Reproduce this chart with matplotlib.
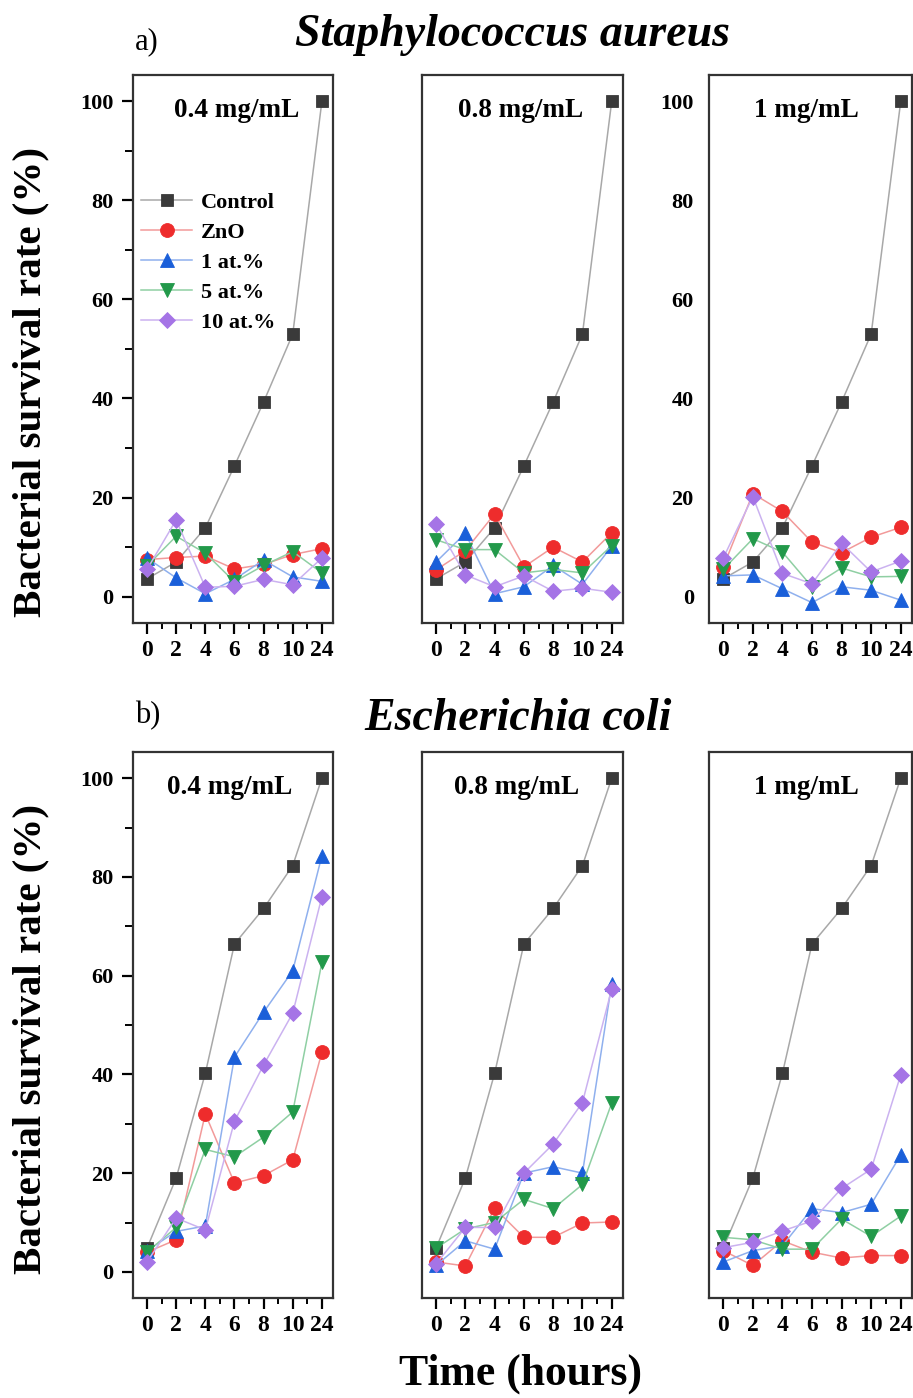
import matplotlib
matplotlib.use('Agg')
import matplotlib.pyplot as plt
from matplotlib.ticker import MultipleLocator

plt.rcParams['font.family'] = ['Liberation Serif', 'DejaVu Serif']
plt.rcParams['font.weight'] = 'bold'

times = ['0', '2', '4', '6', '8', '10', '24']
series = ['Control', 'ZnO', '1 at.%', '5 at.%', '10 at.%']
concs = ['0.4 mg/mL', '0.8 mg/mL', '1 mg/mL']

# S. aureus, one list per concentration: control, ZnO, 1, 5, 10 at.%
sa_04 = [
    [3.6, 7.0, 13.9, 26.4, 39.3, 53.0, 100],
    [7.5, 7.9, 8.2, 5.6, 6.5, 8.5, 9.7],
    [7.8, 3.8, 0.6, 3.5, 7.4, 4.0, 3.1],
    [6.2, 12.2, 8.8, 3.0, 6.3, 9.1, 4.8],
    [5.5, 15.5, 1.9, 2.1, 3.5, 2.4, 7.8],
]
sa_08 = [
    [3.6, 7.0, 13.9, 26.4, 39.3, 53.0, 100],
    [5.4, 9.3, 16.7, 6.0, 10.0, 7.0, 12.9],
    [7.0, 12.8, 0.6, 2.0, 6.3, 2.5, 10.2],
    [11.5, 9.5, 9.5, 4.8, 5.5, 4.8, 10.3],
    [14.7, 4.4, 2.0, 4.2, 1.1, 1.7, 0.9],
]
sa_1 = [
    [3.6, 7.0, 13.9, 26.4, 39.3, 53.0, 100],
    [6.0, 20.8, 17.2, 11.0, 8.9, 12.0, 14.0],
    [4.2, 4.4, 1.6, -1.2, 2.0, 1.3, -0.7],
    [5.5, 11.7, 9.0, 2.0, 5.8, 4.0, 4.1],
    [7.8, 20.2, 4.7, 2.6, 10.8, 5.0, 7.2],
]

# E. coli
ec_04 = [
    [4.8, 19.0, 40.2, 66.4, 73.6, 82.3, 100],
    [4.0, 6.5, 32.0, 18.0, 19.5, 22.7, 44.5],
    [4.3, 8.2, 9.3, 43.5, 52.6, 61.0, 84.3],
    [4.0, 9.0, 24.8, 23.3, 27.3, 32.4, 62.7],
    [2.0, 10.9, 8.5, 30.5, 41.9, 52.4, 76.0],
]
ec_08 = [
    [4.8, 19.0, 40.2, 66.4, 73.6, 82.3, 100],
    [2.0, 1.2, 12.9, 7.0, 7.0, 9.9, 10.1],
    [1.3, 6.3, 4.6, 20.0, 21.3, 20.0, 58.4],
    [4.8, 8.7, 10.0, 14.7, 12.8, 17.7, 34.2],
    [1.6, 9.0, 9.0, 20.0, 25.9, 34.3, 57.3],
]
ec_1 = [
    [4.8, 19.0, 40.2, 66.4, 73.6, 82.3, 100],
    [4.3, 1.3, 6.3, 4.0, 2.8, 3.3, 3.3],
    [2.0, 4.3, 5.3, 12.8, 12.0, 13.7, 23.7],
    [7.0, 6.5, 4.6, 4.6, 10.7, 7.2, 11.3],
    [4.9, 6.0, 8.3, 10.3, 16.9, 20.8, 39.9],
]

markers = ['s', 'o', '^', 'v', 'D']
mcolors = ['#3a3a3a', '#ee2c2c', '#1a5fd9', '#22994a', '#a574e6']
lcolors = ['#a8a8a8', '#f29a9a', '#8fb0ee', '#8fcfa3', '#cbb2f0']
msizes = [8.5, 10, 10, 10, 8.5]

fig = plt.figure(figsize=(9.13, 13.98), dpi=100)

lefts = [0.1457, 0.4622, 0.7766]
widths = [0.219, 0.220, 0.2223]
rows = [(0.5544, 0.392, [sa_04, sa_08, sa_1]), (0.0715, 0.3906, [ec_04, ec_08, ec_1])]
lab_x = [[0.52, 0.49, 0.48], [0.485, 0.47, 0.48]]

x = list(range(len(times)))
for r, (bot, h, datasets) in enumerate(rows):
    for c, data in enumerate(datasets):
        ax = fig.add_axes([lefts[c], bot, widths[c], h])
        for i, ys in enumerate(data):
            ax.plot(x, ys, color=lcolors[i], lw=1.1, marker=markers[i], ms=msizes[i],
                    mfc=mcolors[i], mec=mcolors[i], mew=0.6, label=series[i])
        ax.set_xlim(-0.48, 6.38)
        ax.set_ylim(-5.3, 105.3)
        ax.set_xticks(x)
        ax.set_xticklabels(times)
        ax.xaxis.set_minor_locator(MultipleLocator(0.5))
        ax.yaxis.set_major_locator(MultipleLocator(20))
        ax.yaxis.set_minor_locator(MultipleLocator(10))
        for s in ax.spines.values():
            s.set_linewidth(1.6)
            s.set_color('#333333')
        ax.tick_params(axis='x', which='major', direction='out', length=8, width=1.6, labelsize=17, pad=4)
        ax.tick_params(axis='x', which='minor', direction='out', length=4.5, width=1.4)
        if c == 0:
            ax.tick_params(axis='y', which='major', direction='out', length=8, width=1.6, labelsize=16, pad=6)
            ax.tick_params(axis='y', which='minor', direction='out', length=6, width=1.4)
        elif c == 2 and r == 0:
            ax.tick_params(axis='y', which='both', length=0, labelsize=16, pad=11)
        else:
            ax.tick_params(axis='y', which='both', length=0, labelleft=False)
        ax.text(lab_x[r][c], 0.935, concs[c], transform=ax.transAxes, ha='center', va='center',
                fontsize=19.5, fontweight='bold')
        if r == 0 and c == 0:
            ax.legend(loc='upper left', bbox_to_anchor=(-0.025, 0.81), frameon=False, fontsize=16,
                      handlelength=2.3, handletextpad=0.4, labelspacing=0.42, borderaxespad=0.2)

fig.text(0.148, 0.970, 'a)', fontsize=22, fontweight='normal', ha='left', va='center')
fig.text(0.561, 0.975, 'Staphylococcus aureus', fontsize=33, fontweight='bold', style='italic',
         ha='center', va='center')
fig.text(0.148, 0.488, 'b)', fontsize=22, fontweight='normal', ha='left', va='center')
fig.text(0.567, 0.486, 'Escherichia coli', fontsize=33, fontweight='bold', style='italic',
         ha='center', va='center')
fig.text(0.034, 0.727, 'Bacterial survival rate (%)', fontsize=29.5, fontweight='bold', rotation=90,
         ha='center', va='center')
fig.text(0.034, 0.257, 'Bacterial survival rate (%)', fontsize=29.5, fontweight='bold', rotation=90,
         ha='center', va='center')
fig.text(0.570, 0.017, 'Time (hours)', fontsize=31.5, fontweight='bold', ha='center', va='center')

fig.savefig('out.png', dpi=100, facecolor='white')
